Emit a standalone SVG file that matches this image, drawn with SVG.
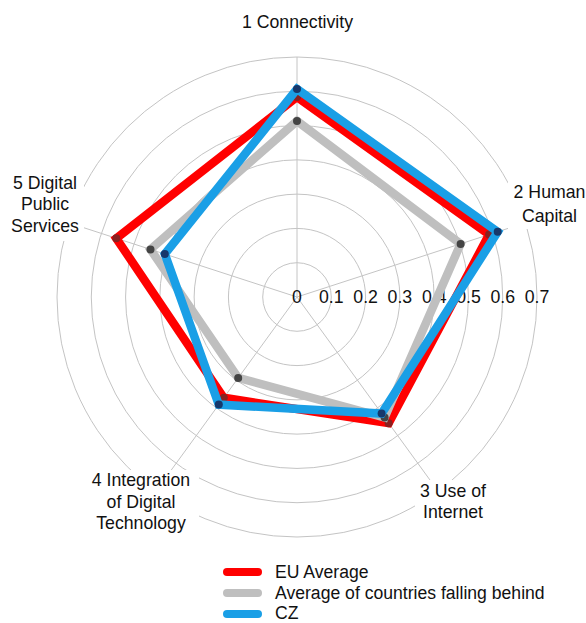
<svg xmlns="http://www.w3.org/2000/svg" width="586" height="623" viewBox="0 0 586 623">
<style>
.grid{fill:none;stroke:#c4c4c4;stroke-width:1}
.lbl{font-family:"Liberation Sans",Arial,sans-serif;font-size:17.7px;fill:#111;text-anchor:middle}
.tick{font-family:"Liberation Sans",Arial,sans-serif;font-size:17.7px;fill:#111;text-anchor:middle}
.leg{font-family:"Liberation Sans",Arial,sans-serif;font-size:17.6px;fill:#111}
.ser{fill:none;stroke-width:8.5;stroke-linejoin:miter;stroke-miterlimit:10}
.bg{fill:#fff}
</style>
<rect width="586" height="623" fill="#fff"/>
<g id="grid">
<circle class="grid" cx="297" cy="297" r="34.29"/>
<circle class="grid" cx="297" cy="297" r="68.57"/>
<circle class="grid" cx="297" cy="297" r="102.86"/>
<circle class="grid" cx="297" cy="297" r="137.14"/>
<circle class="grid" cx="297" cy="297" r="171.43"/>
<circle class="grid" cx="297" cy="297" r="205.71"/>
<circle class="grid" cx="297" cy="297" r="240"/>
<line class="grid" x1="297" y1="297" x2="297" y2="57"/>
<line class="grid" x1="297" y1="297" x2="525.3" y2="222.8"/>
<line class="grid" x1="297" y1="297" x2="438.1" y2="491.2"/>
<line class="grid" x1="297" y1="297" x2="155.9" y2="491.2"/>
<line class="grid" x1="297" y1="297" x2="68.7" y2="222.8"/>
</g>
<g id="axis1">
<text class="lbl" x="297.5" y="28">1 Connectivity</text>
</g>
<g id="axis2">
<rect class="bg" x="508" y="181" width="80" height="48"/>
<text class="lbl" x="549.5" y="198">2 Human</text>
<text class="lbl" x="549.5" y="222">Capital</text>
</g>
<g id="axis3">
<rect class="bg" x="415" y="480" width="77" height="46"/>
<text class="lbl" x="453" y="497">3 Use of</text>
<text class="lbl" x="453" y="518">Internet</text>
</g>
<g id="axis4">
<rect class="bg" x="86" y="470" width="113" height="68"/>
<text class="lbl" x="141" y="486">4 Integration</text>
<text class="lbl" x="141" y="508">of Digital</text>
<text class="lbl" x="141" y="529">Technology</text>
</g>
<g id="axis5">
<rect class="bg" x="6" y="171" width="78" height="70"/>
<text class="lbl" x="45" y="189">5 Digital</text>
<text class="lbl" x="45" y="210">Public</text>
<text class="lbl" x="45" y="232">Services</text>
</g>
<g id="ticks">
<text class="tick" x="297" y="303">0</text>
<text class="tick" x="331.3" y="303">0.1</text>
<text class="tick" x="365.6" y="303">0.2</text>
<text class="tick" x="399.9" y="303">0.3</text>
<text class="tick" x="434.2" y="303">0.4</text>
<text class="tick" x="468.5" y="303">0.5</text>
<text class="tick" x="502.7" y="303">0.6</text>
<text class="tick" x="537" y="303">0.7</text>
</g>
<g id="connectors">
<g id="eu">
<polygon class="ser" stroke="#ff0000" points="297,97 489.1,234.6 388.7,423.2 223.8,397.8 116.3,238.3"/>
<g fill="#8a2020">
<circle cx="297" cy="97" r="4"/><circle cx="489.1" cy="234.6" r="4"/><circle cx="388.7" cy="423.2" r="4"/><circle cx="223.8" cy="397.8" r="4"/><circle cx="116.3" cy="238.3" r="4"/>
</g>
</g>
<g id="behind">
<polygon class="ser" stroke="#bfbfbf" points="297,121 460.6,243.9 384.6,417.5 238.2,377.9 150.5,249.4"/>
<g fill="#444">
<circle cx="297" cy="121" r="4"/><circle cx="460.6" cy="243.9" r="4"/><circle cx="384.6" cy="417.5" r="4"/><circle cx="238.2" cy="377.9" r="4"/><circle cx="150.5" cy="249.4" r="4"/>
</g>
</g>
<g id="cz">
<polygon class="ser" stroke="#1a9fe6" points="297,89 497.7,231.8 381.6,413.5 218.8,404.6 164.8,254"/>
<g fill="#17386b">
<circle cx="297" cy="89" r="4"/><circle cx="497.7" cy="231.8" r="4"/><circle cx="381.6" cy="413.5" r="4"/><circle cx="218.8" cy="404.6" r="4"/><circle cx="164.8" cy="254" r="4"/>
</g>
</g>
</g>
<g id="legend">
<line x1="227" y1="572" x2="258" y2="572" stroke="#ff0000" stroke-width="8" stroke-linecap="round"/>
<text class="leg" x="275" y="578">EU Average</text>
<line x1="227" y1="593" x2="258" y2="593" stroke="#bfbfbf" stroke-width="8" stroke-linecap="round"/>
<text class="leg" x="275" y="599">Average of countries falling behind</text>
<line x1="227" y1="614" x2="258" y2="614" stroke="#1a9fe6" stroke-width="8" stroke-linecap="round"/>
<text class="leg" x="275" y="619">CZ</text>
</g>
</svg>
